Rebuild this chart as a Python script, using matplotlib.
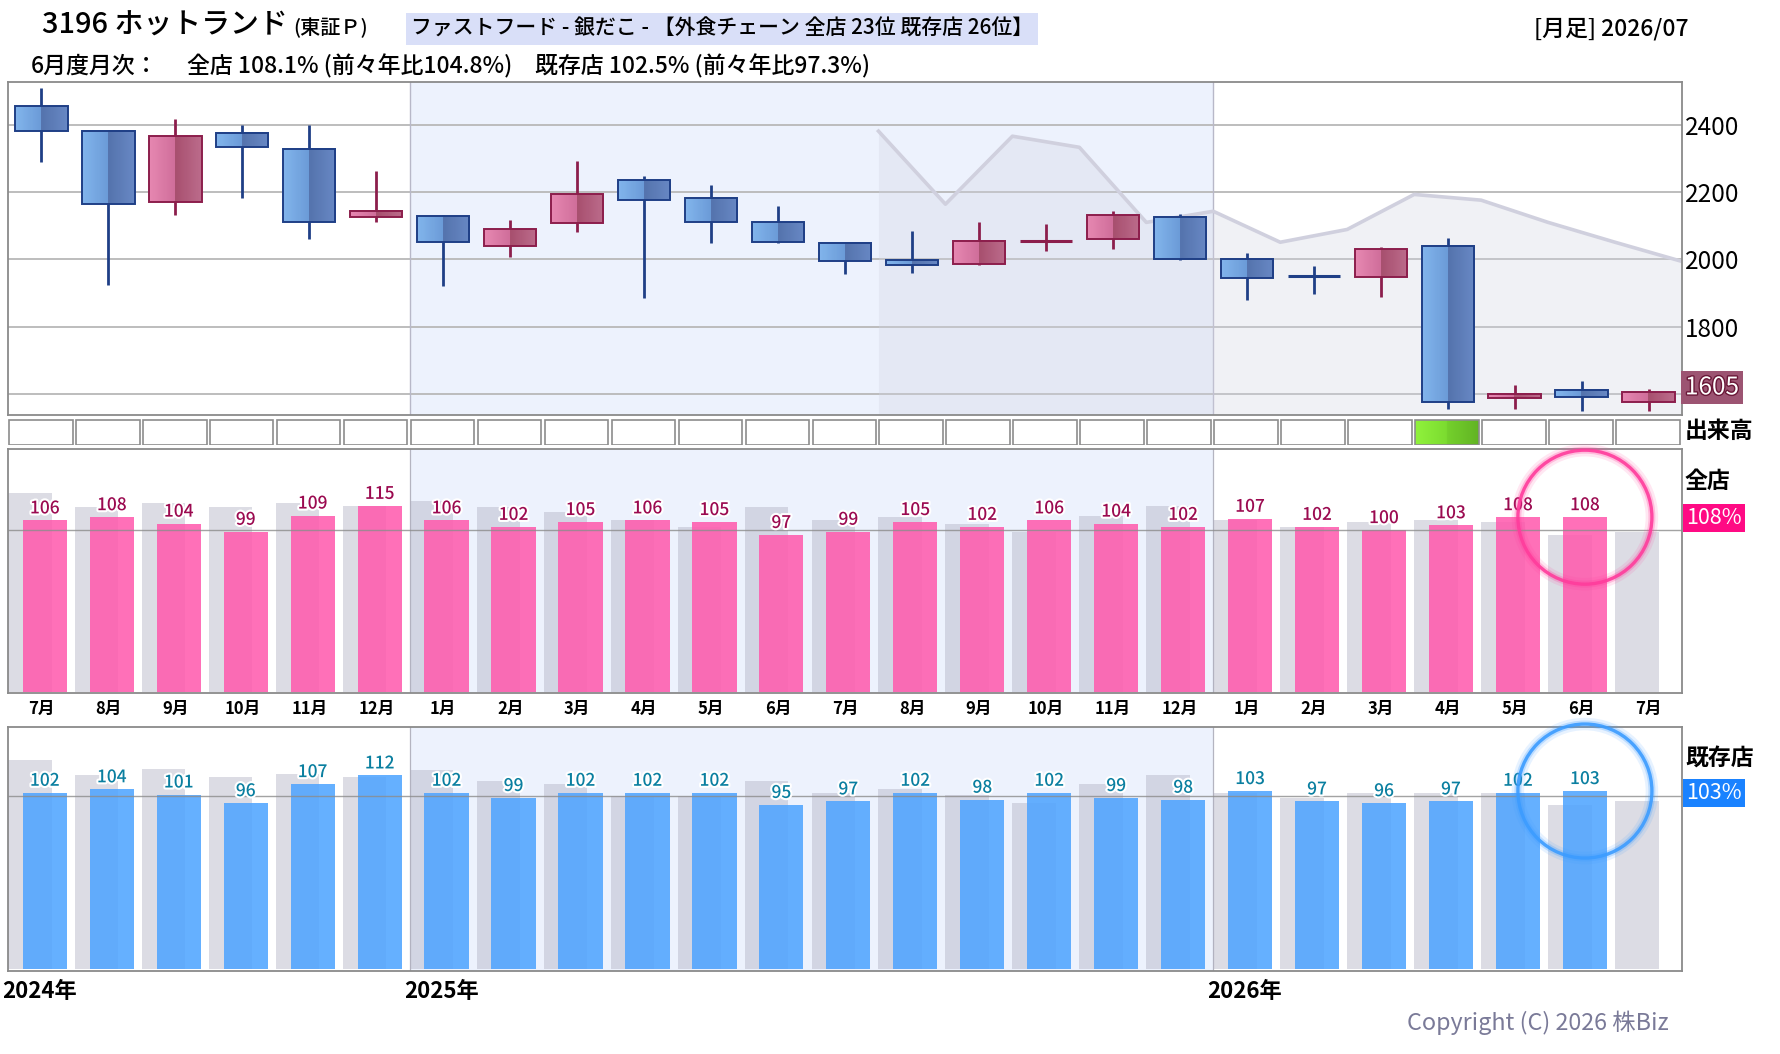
import numpy as np
import matplotlib.pyplot as plt
from matplotlib.patches import Rectangle, Ellipse
import matplotlib.patheffects as pe

plt.rcParams['font.family'] = ['Noto Sans CJK JP', 'DejaVu Sans']

# ---- data (monthly, 2024/07 .. 2026/07) ----
months = ['7月', '8月', '9月', '10月', '11月', '12月', '1月', '2月', '3月', '4月', '5月', '6月',
          '7月', '8月', '9月', '10月', '11月', '12月', '1月', '2月', '3月', '4月', '5月', '6月', '7月']
years = ['2024年', '2025年', '2026年']
year_first = [0, 6, 18]

open_ = [2455, 2381, 2170, 2375, 2327, 2125, 2128, 2039, 2107, 2235, 2182, 2110, 2048,
         1997, 1985, 2052, 2061, 2125, 2000, 1952, 1948, 2039, 1587, 1611, 1577]
high = [2510, 2385, 2418, 2400, 2400, 2263, 2132, 2117, 2292, 2248, 2221, 2159, 2050,
        2084, 2111, 2105, 2144, 2134, 2019, 1980, 2036, 2063, 1627, 1639, 1615]
low = [2290, 1924, 2133, 2183, 2061, 2112, 1921, 2008, 2082, 1886, 2049, 2050, 1957,
       1960, 1983, 2026, 2031, 1998, 1880, 1898, 1889, 1557, 1557, 1551, 1551]
close = [2381, 2164, 2366, 2333, 2110, 2143, 2051, 2089, 2193, 2176, 2110, 2051, 1994,
         1982, 2054, 2055, 2131, 2000, 1946, 1950, 2030, 1575, 1600, 1590, 1605]

volume_high = [0, 0, 0, 0, 0, 0, 0, 0, 0, 0, 0, 0, 0, 0, 0, 0, 0, 0, 0, 0, 0, 1, 0, 0, 0]

zenten = [106, 108, 104, 99, 109, 115, 106, 102, 105, 106, 105, 97,
          99, 105, 102, 106, 104, 102, 107, 102, 100, 103, 108, 108]
kizon = [102, 104, 101, 96, 107, 112, 102, 99, 102, 102, 102, 95,
         97, 102, 98, 102, 99, 98, 103, 97, 96, 97, 102, 103]
# values one year before the first shown months (2023/07 .. 2024/06)
zenten_prior = [123, 114, 117, 114, 117, 115, 118, 114, 111, 106, 102, 114]
kizon_prior = [121, 112, 116, 111, 113, 111, 115, 109, 107, 100, 100, 109]

W, H = 1780, 1054
fig = plt.figure(figsize=(W / 100, H / 100), dpi=100)


def fx(px):
    return px / W


def fy(py):
    return 1 - py / H


n = len(months)
idx = np.arange(n)
shade = '#EDF2FD'
spine_c = '#8A8A8A'

ax_p = fig.add_axes([fx(8), fy(414.6), fx(1674), 332.6 / H])
ax_v = fig.add_axes([fx(8), fy(445.5), fx(1674), 26.5 / H])
ax_z = fig.add_axes([fx(8), fy(693), fx(1674), 243.7 / H])
ax_k = fig.add_axes([fx(8), fy(970.7), fx(1674), 243.7 / H])

for ax in (ax_p, ax_v, ax_z, ax_k):
    ax.set_xlim(-0.5, n - 0.5)
    for s in ax.spines.values():
        s.set_color(spine_c)
        s.set_linewidth(1.3)

# ---- price panel ----
ax_p.set_ylim(1539, 2527)
ax_p.axvspan(year_first[1] - 0.5, year_first[2] - 0.5, color=shade, lw=0, zorder=0)
for yf in year_first[1:]:
    ax_p.axvline(yf - 0.5, color='#B8B8C8', lw=1, zorder=0.6)
ax_p.set_yticks([1600, 1800, 2000, 2200, 2400])
ax_p.set_yticklabels(['', '1800', '2000', '2200', '2400'], fontsize=17.5)
ax_p.yaxis.tick_right()
ax_p.tick_params(axis='y', length=0, pad=2)
ax_p.set_xticks([])
ax_p.grid(axis='y', color='#B8B8B8', lw=1.3)
ax_p.set_axisbelow(True)

# last year's close, shifted by 12 months
prev_x = np.arange(13) + 12.5
prev_y = close[:13]
ax_p.fill_between(prev_x, prev_y, 1539, color='#D2D4E2', alpha=0.32, lw=0, zorder=2)
ax_p.plot(prev_x, prev_y, color='#D0D0DE', lw=2.6, zorder=2.5)


def grad(c1, c2, c3, c4, k=24):
    a = [np.array(plt.matplotlib.colors.to_rgb(c)) for c in (c1, c2, c3, c4)]
    left = [a[0] + (a[1] - a[0]) * t for t in np.linspace(0, 1, k)]
    right = [a[2] + (a[3] - a[2]) * t for t in np.linspace(0, 1, k)]
    return np.array([left + right])


blue_body = grad('#82B5EC', '#6B9BD8', '#5574AE', '#6888C4')
pink_body = grad('#E688B2', '#D06E9A', '#A8506F', '#BC6C8C')
cw = 0.78
for i in idx:
    o, h, l, c = open_[i], high[i], low[i], close[i]
    up = c >= o
    edge = '#8C1E4C' if up else '#1F3F86'
    ax_p.vlines(i, l, h, color=edge, lw=2.0, zorder=3)
    lo, hi = min(o, c), max(o, c)
    if hi - lo < 6:
        ax_p.hlines((o + c) / 2, i - cw / 2, i + cw / 2, color=edge, lw=2.2, zorder=4)
    else:
        ax_p.imshow(pink_body if up else blue_body, extent=(i - cw / 2, i + cw / 2, lo, hi),
                    aspect='auto', interpolation='nearest', zorder=4)
        ax_p.add_patch(Rectangle((i - cw / 2, lo), cw, hi - lo, fc='none', ec=edge, lw=1.4, zorder=5))
ax_p.set_xlim(-0.5, n - 0.5)
ax_p.set_ylim(1539, 2527)

ax_p.annotate(f'{close[-1]}', xy=(n - 0.5, close[-1]), xytext=(3, 5), textcoords='offset pixels',
              va='center', ha='left', fontsize=17.5, color='white', annotation_clip=False,
              bbox=dict(boxstyle='square,pad=0.15', fc='#9C5472', ec='none'),
              path_effects=[pe.withStroke(linewidth=2, foreground='#6A1838')])

# ---- volume strip ----
ax_v.set_ylim(0, 1)
ax_v.set_axis_off()
green = grad('#90F23C', '#7CDC30', '#74D02C', '#62B424')
for i in idx:
    if volume_high[i]:
        ax_v.imshow(green, extent=(i - 0.485, i + 0.465, 0.03, 0.97), aspect='auto',
                    interpolation='bilinear', zorder=1)
    ax_v.add_patch(Rectangle((i - 0.485, 0.03), 0.95, 0.94, fc='none', ec='#8C8C8C', lw=1.2, zorder=2))
ax_v.set_xlim(-0.5, n - 0.5)
ax_v.set_ylim(0, 1)


# ---- store sales panels ----
def bar_panel(ax, cur, prior, ymax, color, lab_color):
    ax.set_ylim(-0.8, ymax)
    ax.axvspan(year_first[1] - 0.5, year_first[2] - 0.5, color=shade, lw=0, zorder=0)
    for yf in year_first[1:]:
        ax.axvline(yf - 0.5, color='#B4B4C0', lw=0.9, zorder=0.5)
    back = prior + cur[:13]
    ax.bar(idx - 0.5, back, width=0.65, align='edge', color='#B0B0C2', alpha=0.44, lw=0, zorder=1)
    pos = np.arange(len(cur))
    ax.bar(pos - 0.28, cur, width=0.66, align='edge', color=color, alpha=0.88, lw=0, zorder=2)
    ax.axhline(100, color='#8C8C8C', lw=1, alpha=0.8, zorder=3)
    for i, v in zip(pos, cur):
        ax.annotate(f'{v}', xy=(i + 0.05, v), xytext=(0, 3), textcoords='offset pixels',
                    ha='center', va='bottom', fontsize=12.5, color=lab_color, zorder=4,
                    fontweight='medium',
                    path_effects=[pe.withStroke(linewidth=3, foreground='white')])
    ax.set_yticks([])
    ax.set_xlim(-0.5, n - 0.5)


bar_panel(ax_z, zenten, zenten_prior, 150, '#FF5CAE', '#9B0A50')
bar_panel(ax_k, kizon, kizon_prior, 140, '#50A5FF', '#0A7FA0')
ax_z.set_xticks(idx)
ax_z.set_xticklabels(months, fontsize=12, fontweight='bold')
ax_z.tick_params(axis='x', length=0, pad=5)
ax_k.set_xticks([])

for name, yf in zip(years, year_first):
    ax_k.annotate(name, xy=(yf - 0.5, 0), xycoords=('data', 'axes fraction'), xytext=(-6, -21),
                  textcoords='offset pixels', ha='left', va='center', fontsize=16,
                  fontweight='bold', annotation_clip=False)


def ring(ax, x, y, color):
    px, py = ax.transData.transform((x, y))
    r = 67
    for lw, a in ((9, 0.12), (5, 0.25), (2.4, 0.9)):
        fig.add_artist(Ellipse((px / W, py / H), 2 * r / W, 2 * r / H, transform=fig.transFigure,
                               fill=False, ec=color, lw=lw, alpha=a, zorder=10))


last = len(zenten) - 1
ring(ax_z, last + 0.05, zenten[-1], '#FF3C9C')
ring(ax_k, last + 0.05, kizon[-1], '#3C9CFF')

ax_z.annotate(f'{zenten[-1]}%', xy=(n - 0.5, zenten[-1]), xytext=(4, -1), textcoords='offset pixels',
              ha='left', va='center', fontsize=15.5, color='white', annotation_clip=False,
              bbox=dict(boxstyle='square,pad=0.14', fc='#FF0A84', ec='none'))
ax_k.annotate(f'{kizon[-1]}%', xy=(n - 0.5, kizon[-1]), xytext=(4, -2), textcoords='offset pixels',
              ha='left', va='center', fontsize=15.5, color='white', annotation_clip=False,
              bbox=dict(boxstyle='square,pad=0.14', fc='#1A82FF', ec='none'))

# ---- side labels ----
fig.text(fx(1685), fy(431), '出来高', fontsize=16.5, fontweight='bold', va='center')
fig.text(fx(1685), fy(481), '全店', fontsize=16.5, fontweight='bold', va='center')
fig.text(fx(1685), fy(759), '既存店', fontsize=16.5, fontweight='bold', va='center')

# ---- header ----
fig.text(fx(42), fy(25), '3196 ホットランド', fontsize=20.8, va='center', fontweight='medium')
fig.text(fx(293), fy(28), '(東証Ｐ)', fontsize=14.5, va='center', fontweight='medium')
fig.text(fx(411), fy(29), 'ファストフード - 銀だこ - 【外食チェーン 全店 23位 既存店 26位】',
         fontsize=15, va='center', fontweight='medium',
         bbox=dict(boxstyle='square,pad=0.22', fc='#D9DFF8', ec='none'))
fig.text(fx(1689), fy(29), '[月足] 2026/07', fontsize=16.5, va='center', ha='right',
         fontweight='medium')
fig.text(fx(31), fy(66), '6月度月次：', fontsize=16.5, va='center', fontweight='medium')
fig.text(fx(187), fy(66), '全店 108.1% (前々年比104.8%)', fontsize=16.5, va='center',
         fontweight='medium')
fig.text(fx(535), fy(66), '既存店 102.5% (前々年比97.3%)', fontsize=16.5, va='center',
         fontweight='medium')

fig.text(fx(1669), fy(1023), 'Copyright (C) 2026 株Biz', fontsize=16.8, va='center', ha='right',
         color='#7A7A98')

fig.savefig('out.png', dpi=100)
